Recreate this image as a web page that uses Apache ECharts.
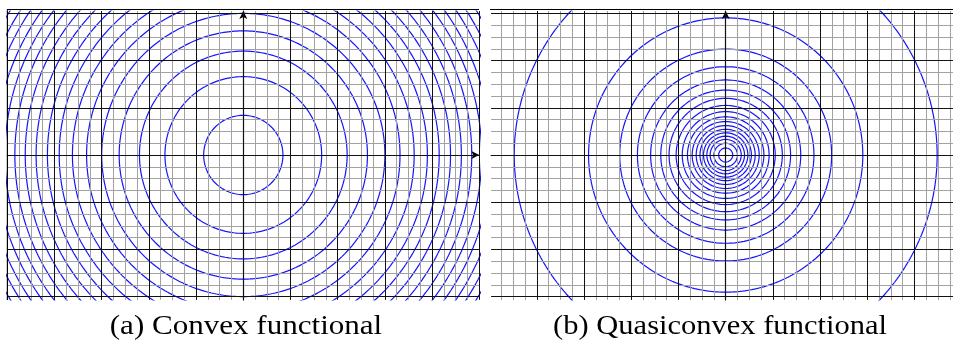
<!DOCTYPE html>
<html>
<head>
<meta charset="utf-8">
<script src="https://cdn.jsdelivr.net/npm/echarts@6/dist/echarts.min.js"></script>
<style>
  html, body { margin: 0; padding: 0; background: #fff; }
  #chart { width: 953px; height: 351px; }
</style>
</head>
<body>
<div id="chart"></div>
<script>
// Level-set radii of the two functionals (distance from the origin)
const radiiConvex = [0.84, 1.66, 2.20, 2.63, 3.00, 3.32, 3.62, 3.90, 4.15, 4.39, 4.62, 4.84, 5.05, 5.25, 5.45, 5.63, 5.81];
const radiiQuasi = [0.15, 0.25, 0.33, 0.40, 0.47, 0.545, 0.625, 0.71, 0.81, 0.92, 1.05, 1.20, 1.375, 1.59, 1.87, 2.245, 2.905, 4.48];

// Grid ticks
const xMajor = [-5, -4, -3, -2, -1, 0, 1, 2, 3, 4, 5];
const yMajor = [-3, -2, -1, 0, 1, 2, 3];
const minorPerMajor = 4;

const captions = ['(a) Convex functional', '(b) Quasiconvex functional'];

// Visible window of each panel (data units)
const panels = [
  { xMin: -5, xMax: 5, yMin: -3.07, yMax: 3.05, radii: radiiConvex, left: 7.3 },
  { xMin: -4.97, xMax: 5, yMin: -3.07, yMax: 3.05, radii: radiiQuasi, left: 491.1 }
];
const unit = 47.2;            // pixels per unit
const originY = 155;          // pixel row of y = 0

function minorTicks(major) {
  const out = [];
  for (let i = 0; i < major.length - 1; i++) {
    const a = major[i], b = major[i + 1];
    for (let k = 1; k < minorPerMajor; k++) out.push(a + (b - a) * k / minorPerMajor);
  }
  return out;
}

function circlePoints(r) {
  const pts = [];
  const n = 360;
  for (let i = 0; i <= n; i++) {
    const t = 2 * Math.PI * i / n;
    pts.push([r * Math.cos(t), r * Math.sin(t)]);
  }
  return pts;
}

const grids = [], xAxes = [], yAxes = [], series = [];

panels.forEach((p, gi) => {
  grids.push({
    left: p.left,
    top: originY - p.yMax * unit,
    width: (p.xMax - p.xMin) * unit,
    height: (p.yMax - p.yMin) * unit,
    containLabel: false,
    outerBoundsMode: 'none'
  });
  const axisCommon = {
    type: 'value',
    axisLabel: { show: false },
    axisTick: { show: false },
    splitLine: { show: false },
    axisLine: {
      show: true, onZero: true,
      symbol: ['none', 'arrow'], symbolSize: [6, 8],
      lineStyle: { color: '#000', width: 1.2 }
    },
    z: 4
  };
  xAxes.push(Object.assign({}, axisCommon, { gridIndex: gi, min: p.xMin, max: p.xMax }));
  yAxes.push(Object.assign({}, axisCommon, { gridIndex: gi, min: p.yMin, max: p.yMax }));

  const inX = v => v >= p.xMin && v <= p.xMax;
  const inY = v => v >= p.yMin && v <= p.yMax;

  // minor grid lines
  series.push({
    type: 'line', xAxisIndex: gi, yAxisIndex: gi, data: [],
    silent: true, z: 1,
    markLine: {
      silent: true, symbol: 'none', animation: false,
      label: { show: false },
      lineStyle: { color: '#a2a2a2', width: 1, type: 'solid' },
      data: minorTicks(xMajor).filter(inX).map(v => ({ xAxis: v }))
        .concat(minorTicks(yMajor).filter(inY).map(v => ({ yAxis: v })))
    }
  });
  // major grid lines
  series.push({
    type: 'line', xAxisIndex: gi, yAxisIndex: gi, data: [],
    silent: true, z: 2,
    markLine: {
      silent: true, symbol: 'none', animation: false,
      label: { show: false },
      lineStyle: { color: '#111', width: 1, type: 'solid' },
      data: xMajor.filter(inX).map(v => ({ xAxis: v }))
        .concat(yMajor.filter(inY).map(v => ({ yAxis: v })))
    }
  });
  // level sets
  p.radii.forEach(r => {
    series.push({
      type: 'line', xAxisIndex: gi, yAxisIndex: gi,
      data: circlePoints(r),
      showSymbol: false, smooth: false, clip: true, silent: true,
      lineStyle: { color: '#1414ff', width: 1.2 },
      z: 3, animation: false
    });
  });
});

const captionStyle = { fontFamily: 'Liberation Serif', fontSize: 27, fill: '#000', align: 'center', verticalAlign: 'middle' };

const chart = echarts.init(document.getElementById('chart'), null, { renderer: 'canvas' });
chart.setOption({
  backgroundColor: '#fff',
  animation: false,
  grid: grids,
  xAxis: xAxes,
  yAxis: yAxes,
  series: series,
  graphic: [
    { type: 'line', shape: { x1: 7, y1: 9.5, x2: 479, y2: 9.5 }, style: { stroke: '#000', lineWidth: 1 }, z: 10 },
    { type: 'line', shape: { x1: 490, y1: 9.5, x2: 953, y2: 9.5 }, style: { stroke: '#000', lineWidth: 1 }, z: 10 },
    { type: 'line', shape: { x1: 7.3, y1: 9.5, x2: 7.3, y2: 300 }, style: { stroke: '#000', lineWidth: 1 }, z: 10 },
    { type: 'text', x: 246, y: 327, scaleX: 1.15,
      style: Object.assign({ text: captions[0] }, captionStyle) },
    { type: 'text', x: 720, y: 327, scaleX: 1.13,
      style: Object.assign({ text: captions[1] }, captionStyle) }
  ]
});
</script>
</body>
</html>
